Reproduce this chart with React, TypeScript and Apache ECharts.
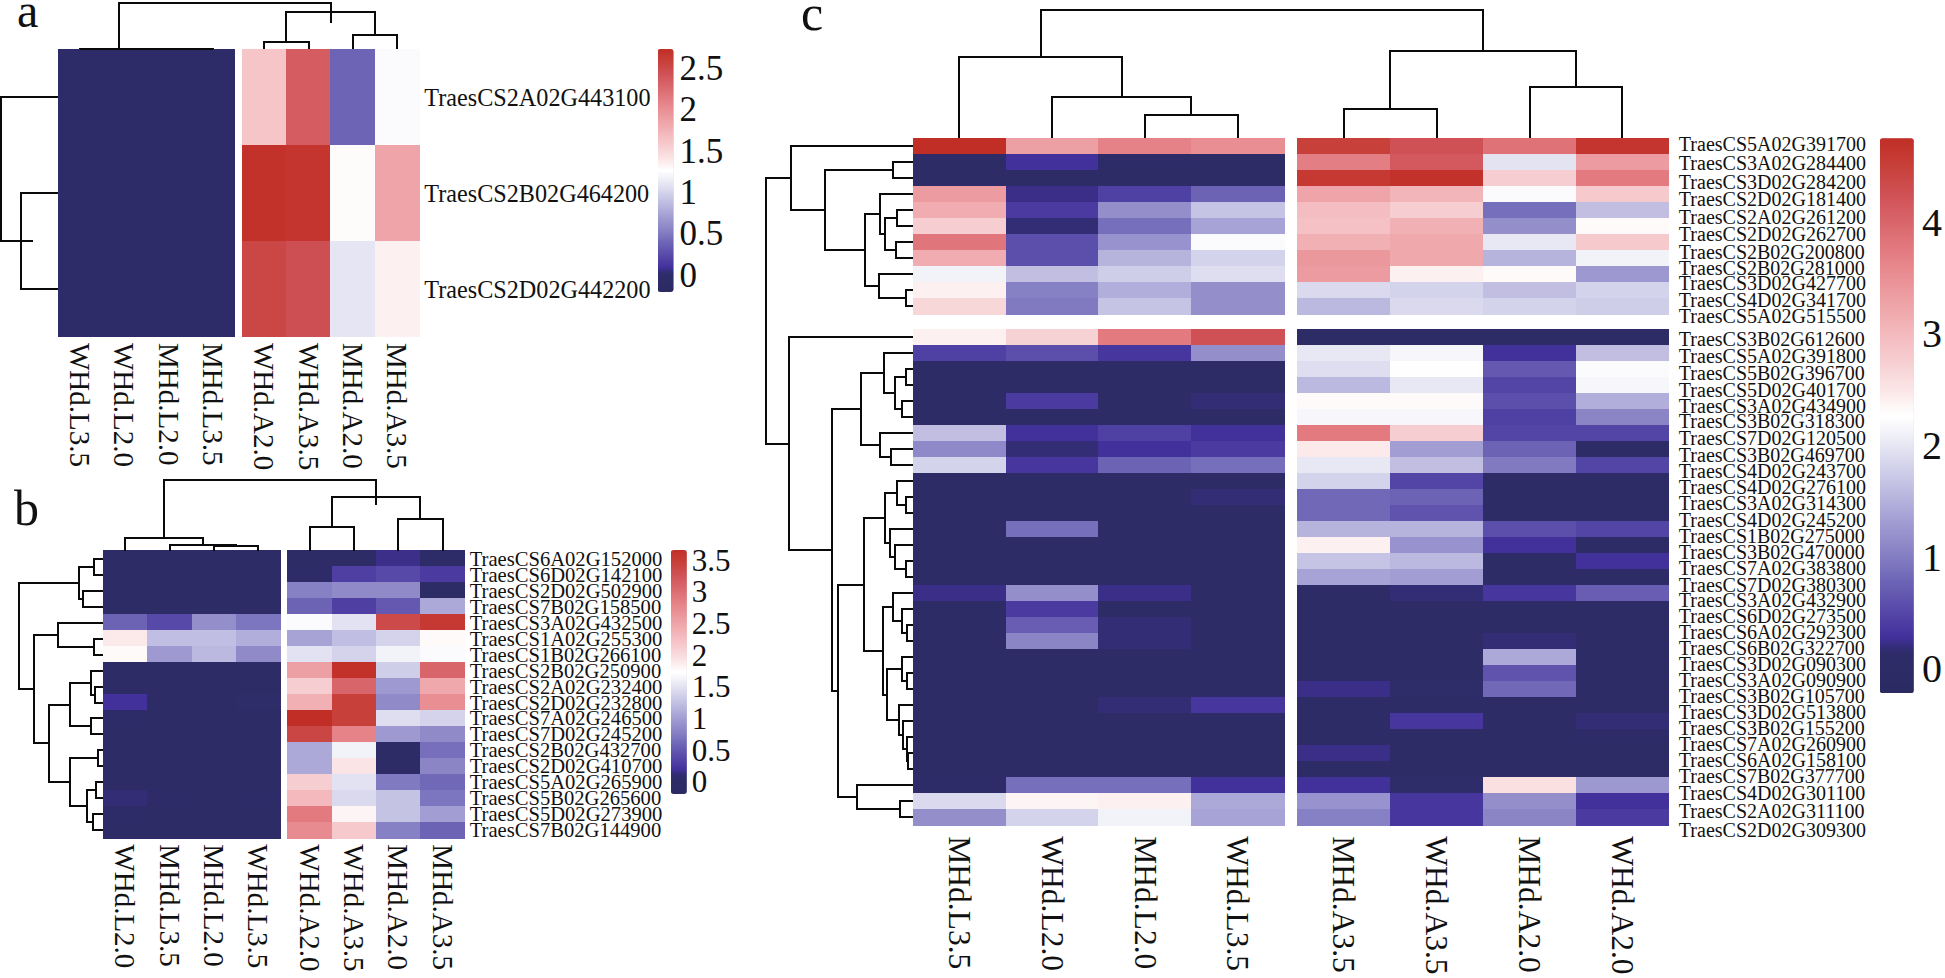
import React, { useEffect, useRef } from "react";
import * as echarts from "echarts";

const FONT = "Liberation Serif";

// Colour ramp of the three legends (dark navy through white to red): [position, colour]
const rampStops: [number, number[]][] = [
  [0, [0x2b, 0x2b, 0x62]], [0.075, [0x2e, 0x2c, 0x69]], [0.1, [0x42, 0x30, 0x9b]], [0.15, [0x57, 0x49, 0xa8]],
  [0.2, [0x6c, 0x63, 0xb5]], [0.25, [0x86, 0x80, 0xc4]], [0.3, [0x9d, 0x98, 0xd0]], [0.35, [0xb6, 0xb3, 0xdd]],
  [0.4, [0xcf, 0xce, 0xe9]], [0.45, [0xe8, 0xe8, 0xf4]], [0.5, [0xff, 0xff, 0xff]], [0.55, [0xfb, 0xe4, 0xe5]],
  [0.6, [0xf6, 0xcd, 0xd0]], [0.65, [0xf3, 0xb9, 0xbd]], [0.7, [0xee, 0xa4, 0xa8]], [0.75, [0xe9, 0x8f, 0x94]],
  [0.8, [0xe2, 0x7a, 0x80]], [0.85, [0xd8, 0x65, 0x6a]], [0.9, [0xcf, 0x50, 0x55]], [0.95, [0xc7, 0x40, 0x39]],
  [1, [0xc1, 0x2e, 0x26]],
];
const ramp: string[] = [];
for (let k = 0; k <= 40; k++) {
  const t = k / 40;
  let j = 0;
  while (j < rampStops.length - 2 && rampStops[j + 1][0] < t) j++;
  const [t0, c0] = rampStops[j];
  const [t1, c1] = rampStops[j + 1];
  const u = (t - t0) / (t1 - t0);
  ramp.push(`rgb(${c0.map((v, n) => Math.round(v + (c1[n] - v) * u)).join(",")})`);
}

// ---------- panel a ----------
const aCols = ["WHd.L3.5", "WHd.L2.0", "MHd.L2.0", "MHd.L3.5", "WHd.A2.0", "WHd.A3.5", "MHd.A2.0", "MHd.A3.5"];
const aRows = ["TraesCS2A02G443100", "TraesCS2B02G464200", "TraesCS2D02G442200"];
const aValues = [
  [0, 0, 0, 0, 1.62, 2.35, 0.39, 1.24],
  [0, 0, 0, 0, 2.7, 2.67, 1.29, 1.85],
  [0, 0, 0, 0, 2.52, 2.45, 1.1, 1.35],
];
const aTicks = [0, 0.5, 1, 1.5, 2, 2.5];
const aColMerge = [[-3, -4, 0.5], [-2, 1, 0.5], [-1, 2, 0.5], [-5, -6, 7], [-7, -8, 14], [4, 5, 37], [3, 6, 46]];
const aRowMerge = [[-2, -3, 37], [-1, 1, 57]];
const aColStubs = [[6, 37, 26]];
const aRowStubs = [[1, 37, 25]];

// ---------- panel b ----------
const bCols = ["WHd.L2.0", "MHd.L3.5", "MHd.L2.0", "WHd.L3.5", "WHd.A2.0", "WHd.A3.5", "MHd.A2.0", "MHd.A3.5"];
const bRows = [
  "TraesCS6A02G152000", "TraesCS6D02G142100", "TraesCS2D02G502900", "TraesCS7B02G158500", "TraesCS3A02G432500",
  "TraesCS1A02G255300", "TraesCS1B02G266100", "TraesCS2B02G250900", "TraesCS2A02G232400", "TraesCS2D02G232800",
  "TraesCS7A02G246500", "TraesCS7D02G245200", "TraesCS2B02G432700", "TraesCS2D02G410700", "TraesCS5A02G265900",
  "TraesCS5B02G265600", "TraesCS5D02G273900", "TraesCS7B02G144900",
];
const bValues = [
  [0, 0, 0, 0, 0, 0, 0.16, 0.04],
  [0, 0, 0, 0, 0.04, 0.31, 0.39, 0.27],
  [0, 0, 0, 0, 0.77, 0.85, 0.85, 0],
  [0, 0, 0, 0, 0.58, 0.31, 0.5, 1.08],
  [0.58, 0.39, 0.89, 0.7, 1.7, 1.5, 3.35, 3.54],
  [1.89, 1.23, 1.23, 1.12, 1.04, 1.23, 1.39, 1.77],
  [1.77, 0.97, 1.2, 0.85, 1.5, 1.39, 1.62, 1.7],
  [0, 0, 0, 0, 2.54, 3.62, 1.35, 3.08],
  [0, 0, 0, 0, 2.12, 3.08, 0.97, 2.47],
  [0.2, 0, 0, 0.08, 2.39, 3.47, 0.85, 2.7],
  [0.04, 0, 0, 0, 3.66, 3.47, 1.47, 1.39],
  [0, 0, 0, 0, 3.39, 2.81, 0.97, 0.85],
  [0, 0, 0, 0, 1.08, 1.62, 0, 0.66],
  [0, 0, 0, 0, 1.08, 1.93, 0, 0.81],
  [0, 0, 0, 0, 2.12, 1.5, 0.73, 0.62],
  [0.12, 0.04, 0, 0.04, 2.31, 1.43, 1.27, 0.7],
  [0.04, 0, 0, 0, 2.89, 1.81, 1.27, 1.0],
  [0.02, 0, 0, 0, 2.74, 2.16, 0.77, 0.58],
];
const bTicks = [0, 0.5, 1, 1.5, 2, 2.5, 3, 3.5];
const bColMerge = [[-3, -4, 4.3], [-2, 1, 5.3], [-1, 2, 12.5], [-5, -6, 24], [-7, -8, 32], [4, 5, 54], [3, 6, 71]];
const bColStubs = [[6, 54, 46]];
const bRowMerge = [
  [-1, -2, 9], [-3, -4, 20], [1, 2, 24], [-6, -7, 9], [-5, 4, 45], [-9, -10, 8], [-8, 6, 12], [-11, -12, 12],
  [7, 8, 33], [-13, -14, 5], [-15, -16, 7], [-17, -18, 10], [11, 12, 16], [10, 13, 33], [9, 14, 54], [5, 15, 69], [3, 16, 84],
];

// ---------- panel c ----------
const cCols = ["MHd.L3.5", "WHd.L2.0", "MHd.L2.0", "WHd.L3.5", "MHd.A3.5", "WHd.A3.5", "MHd.A2.0", "WHd.A2.0"];
const cRows = [
  "TraesCS5A02G391700", "TraesCS3A02G284400", "TraesCS3D02G284200", "TraesCS2D02G181400", "TraesCS2A02G261200",
  "TraesCS2D02G262700", "TraesCS2B02G200800", "TraesCS2B02G281000", "TraesCS3D02G427700", "TraesCS4D02G341700",
  "TraesCS5A02G515500",
  "TraesCS3B02G612600", "TraesCS5A02G391800", "TraesCS5B02G396700", "TraesCS5D02G401700", "TraesCS3A02G434900",
  "TraesCS3B02G318300", "TraesCS7D02G120500", "TraesCS3B02G469700", "TraesCS4D02G243700", "TraesCS4D02G276100",
  "TraesCS3A02G314300", "TraesCS4D02G245200", "TraesCS1B02G275000", "TraesCS3B02G470000", "TraesCS7A02G383800",
  "TraesCS7D02G380300", "TraesCS3A02G432900", "TraesCS6D02G273500", "TraesCS6A02G292300", "TraesCS6B02G322700",
  "TraesCS3D02G090300", "TraesCS3A02G090900", "TraesCS3B02G105700", "TraesCS3D02G513800", "TraesCS3B02G155200",
  "TraesCS7A02G260900", "TraesCS6A02G158100", "TraesCS7B02G377700", "TraesCS4D02G301100", "TraesCS2A02G311100",
  "TraesCS2D02G309300",
];
const cValues = [
  [4.75, 3.31, 3.66, 3.51, 4.5, 4.25, 3.86, 4.65],
  [0, 0.28, 0.08, 0, 3.71, 4.15, 1.97, 3.36],
  [0, 0, 0, 0, 4.6, 4.7, 2.76, 3.76],
  [3.36, 0.23, 0.43, 0.77, 3.26, 3.06, 2.22, 2.81],
  [3.16, 0.38, 1.17, 1.67, 2.96, 2.76, 0.87, 1.62],
  [2.76, 0.18, 0.87, 1.37, 2.91, 3.11, 1.17, 2.31],
  [3.81, 0.58, 1.22, 2.22, 3.11, 3.21, 2.02, 2.81],
  [3.16, 0.58, 1.52, 1.82, 3.41, 3.21, 1.52, 2.12],
  [2.12, 1.62, 1.77, 1.92, 3.36, 2.41, 2.31, 1.27],
  [2.41, 1.02, 1.47, 1.17, 1.87, 1.82, 1.62, 1.82],
  [2.66, 0.97, 1.67, 1.17, 1.57, 1.87, 1.82, 1.77],
  [2.41, 2.71, 3.76, 4.25, 0, 0, 0, 0],
  [0.43, 0.58, 0.33, 1.17, 2.02, 2.17, 0.28, 1.62],
  [0, 0, 0, 0, 1.92, 2.27, 0.67, 2.22],
  [0, 0, 0, 0, 1.57, 2.02, 0.48, 2.17],
  [0, 0.38, 0, 0.18, 2.31, 2.31, 0.58, 1.47],
  [0.03, 0, 0, 0.03, 2.17, 2.17, 0.43, 1.07],
  [1.62, 0.28, 0.43, 0.28, 3.76, 2.76, 0.48, 0.48],
  [1.12, 0.18, 0.28, 0.38, 2.46, 1.32, 0.77, 0],
  [1.82, 0.33, 0.77, 0.87, 2.02, 1.62, 0.97, 0.48],
  [0, 0, 0, 0, 1.82, 0.48, 0, 0],
  [0.03, 0.03, 0.03, 0.18, 0.82, 0.77, 0, 0.03],
  [0.03, 0, 0, 0, 0.82, 0.62, 0, 0],
  [0.03, 0.87, 0.03, 0, 1.52, 1.52, 0.58, 0.48],
  [0, 0, 0, 0, 2.41, 1.22, 0.28, 0],
  [0, 0, 0, 0, 1.67, 1.57, 0, 0.28],
  [0, 0, 0, 0, 1.37, 1.32, 0, 0.03],
  [0.23, 1.17, 0.23, 0.03, 0, 0.18, 0.33, 0.72],
  [0, 0.38, 0.03, 0, 0, 0, 0.03, 0],
  [0, 0.72, 0.18, 0, 0, 0, 0, 0],
  [0, 1.07, 0.18, 0, 0, 0, 0.18, 0],
  [0, 0, 0, 0, 0.03, 0.03, 1.42, 0],
  [0, 0, 0, 0, 0.03, 0.03, 0.62, 0],
  [0, 0, 0, 0, 0.23, 0.13, 0.82, 0],
  [0, 0.03, 0.18, 0.33, 0, 0, 0, 0],
  [0, 0, 0, 0, 0.03, 0.33, 0, 0.18],
  [0, 0, 0, 0, 0, 0, 0, 0.08],
  [0, 0, 0, 0, 0.23, 0, 0, 0],
  [0, 0, 0, 0, 0, 0, 0.03, 0],
  [0.08, 0.87, 0.87, 0.28, 0.28, 0.13, 2.56, 1.27],
  [1.87, 2.36, 2.41, 1.42, 1.22, 0.33, 1.17, 0.28],
  [1.17, 1.82, 2.12, 1.37, 1.02, 0.33, 1.07, 0.38],
];
const cTicks = [0, 1, 2, 3, 4];
const cColMerge = [[-3, -4, 23.3], [-2, 1, 41.6], [-1, 2, 81.6], [-5, -6, 29.3], [-7, -8, 51.6], [4, 5, 87.6], [3, 6, 128.3]];
const cRowMerge = [
  [-5, -6, 16.1], [-7, -8, 17.2], [1, 2, 27.6], [-4, 3, 33.3], [-10, -11, 7.3], [-9, 5, 34.4], [4, 6, 47.8], [-2, -3, 20.3],
  [8, 7, 88], [-1, 9, 121.7], [-14, -15, 6.9], [-16, -17, 11.5], [11, 12, 18.4], [-13, 13, 29.5], [-19, -20, 22.2],
  [-18, 15, 32.9], [14, 16, 52.4], [-22, -23, 6.9], [-21, 18, 16.1], [-26, -27, 7.3], [-25, 20, 18.4], [-24, 21, 23],
  [19, 22, 27.6], [-30, -31, 5.7], [-29, 24, 11.5], [-28, 25, 19.9], [-33, -34, 5.7], [-32, 27, 11.5], [-38, -39, 5],
  [-37, 29, 6.5], [-36, 30, 10.3], [-35, 31, 14.5], [28, 32, 26.4], [26, 33, 29.9], [23, 34, 49], [-41, -42, 13],
  [-40, 36, 55.9], [35, 37, 74.6], [17, 38, 81.1], [-12, 39, 124.4], [10, 40, 147.3],
];
const cRowLabelY = [
  144, 163, 181.7, 199, 217, 234, 252, 268, 283, 300, 316,
  339, 356, 372.7, 390, 405.7, 421, 438, 455, 470.7, 487, 503, 520, 536, 552, 568, 585, 600, 616, 632, 648,
  664, 680, 696, 712, 728, 744, 760, 776, 793, 811, 830,
];

// ---------- layouts ----------
const layoutA = {
  x: 58, y: 49, cellW: 44.3, cellH: 96, colGap: 6.9, rowBreak: 0, rowGap: 0,
  colDendro: 47, rowDendro: 58, bar: { left: 657.5, top: 49, w: 16, h: 243, min: -0.2, max: 2.73 },
  barFont: 35, barMargin: 6, colFont: 29, colMargin: 6, colShift: [0, 0, 8, 0], rowFont: 24.2, rowMargin: 5,
};
const layoutB = {
  x: 103.3, y: 550.7, cellW: 44.3, cellH: 15.98, colGap: 7, rowBreak: 0, rowGap: 0,
  colDendro: 72, rowDendro: 100, bar: { left: 670.8, top: 550, w: 16, h: 244, min: -0.19, max: 3.66 },
  barFont: 31, barMargin: 5, colFont: 29, colMargin: 6, colShift: [0, 0, 8, 0], rowFont: 20.6, rowMargin: 5,
};
const layoutC = {
  x: 913, y: 138.3, cellW: 92.83, cellH: 16, colGap: 13.2, rowBreak: 11, rowGap: 15,
  colDendro: 129, rowDendro: 150, bar: { left: 1879.8, top: 138.3, w: 34, h: 555, min: -0.22, max: 4.75 },
  barFont: 40, barMargin: 13, colFont: 31.5, colMargin: 11, colShift: [5, 0, 0, 0], rowFont: 20, rowMargin: 0,
};

function mergeSegments(merge: number[][], leafPos: (i: number) => number, stubs: number[][] = []) {
  const nodes: { pos: number; h: number }[] = [];
  const read = (ref: number) => (ref < 0 ? { pos: leafPos(-ref - 1), h: 0 } : nodes[ref - 1]);
  const segs: number[][] = [];
  merge.forEach(([a, b, h]) => {
    const l = read(a);
    const r = read(b);
    segs.push([l.pos, l.h, l.pos, h, r.pos, h, r.pos, r.h]);
    nodes.push({ pos: (l.pos + r.pos) / 2, h });
  });
  stubs.forEach(([node, h0, h1]) => {
    const p = nodes[node - 1].pos;
    segs.push([p, h0, p, h1, p, h1, p, h1]);
  });
  return segs;
}

function buildOption() {
  const grid: any[] = [];
  const xAxis: any[] = [];
  const yAxis: any[] = [];
  const series: any[] = [];
  const visualMap: any[] = [];
  const graphic: any[] = [];
  const hiddenCommon = { axisLine: { show: false }, axisTick: { show: false }, splitLine: { show: false } };

  const addGrid = (left: number, top: number, width: number, height: number, x: any, y: any) => {
    grid.push({ left, top, width, height, show: false });
    const i = grid.length - 1;
    xAxis.push({ gridIndex: i, ...hiddenCommon, ...x });
    yAxis.push({ gridIndex: i, ...hiddenCommon, ...y });
    return i;
  };

  const dendroSeries = (g: number, data: number[][]) => ({
    type: "custom", xAxisIndex: g, yAxisIndex: g, data, silent: true, clip: false,
    encode: { x: 0, y: 1 },
    renderItem: (_: any, api: any) => ({
      type: "polyline",
      shape: { points: [0, 2, 4, 6].map((i) => api.coord([api.value(i), api.value(i + 1)])) },
      style: { stroke: "#0a0a0a", lineWidth: 2, fill: "none" },
    }),
  });

  const panel = (L: any, cols: string[], rows: string[], values: number[][], ticks: number[],
    colMerge: number[][], rowMerge: number[][], colStubs: number[][], rowStubs: number[][], rowAxisLabels: boolean) => {
    const seriesIdx: number[] = [];
    const nRows = rows.length;
    const blocks = L.rowBreak ? [[0, L.rowBreak], [L.rowBreak, nRows]] : [[0, nRows]];
    const colBlocks = [[0, 4], [4, 8]];
    blocks.forEach(([r0, r1], bi) => {
      colBlocks.forEach(([c0, c1], ci) => {
        const left = L.x + c0 * L.cellW + (ci ? L.colGap : 0);
        const top = L.y + r0 * L.cellH + (bi ? L.rowGap : 0);
        const lastBlock = bi === blocks.length - 1;
        const g = addGrid(left, top, (c1 - c0) * L.cellW, (r1 - r0) * L.cellH, {
          type: "category",
          data: cols.slice(c0, c1),
          axisLabel: {
            show: lastBlock, interval: 0, rotate: -90, margin: L.colMargin, padding: L.colShift,
            fontFamily: FONT, fontSize: L.colFont, color: "#111", hideOverlap: false,
          },
        }, {
          type: "category",
          inverse: true,
          position: "right",
          data: rows.slice(r0, r1),
          axisLabel: {
            show: rowAxisLabels && ci === 1, interval: 0, margin: L.rowMargin,
            fontFamily: FONT, fontSize: L.rowFont, color: "#111", hideOverlap: false,
          },
        });
        const data: number[][] = [];
        for (let r = r0; r < r1; r++) for (let c = c0; c < c1; c++) data.push([c - c0, r - r0, values[r][c]]);
        seriesIdx.push(series.length);
        series.push({
          type: "heatmap", xAxisIndex: g, yAxisIndex: g, data, silent: true,
          itemStyle: { borderWidth: 0 }, emphasis: { disabled: true }, progressive: 0,
        });
      });
    });

    // legend bar with its value axis
    const b = L.bar;
    visualMap.push({
      type: "continuous", min: b.min, max: b.max, dimension: 2, seriesIndex: seriesIdx,
      inRange: { color: ramp }, left: b.left, top: b.top, itemWidth: b.w, itemHeight: b.h,
      padding: 0, calculable: false, hoverLink: false, orient: "vertical", text: null, showLabel: false,
    });
    addGrid(b.left, b.top, b.w, b.h, { type: "value", show: false, min: 0, max: 1 }, {
      type: "value", position: "right", min: b.min, max: b.max,
      axisLabel: {
        show: true, customValues: ticks, margin: L.barMargin, fontFamily: FONT, fontSize: L.barFont, color: "#111",
        showMinLabel: true, showMaxLabel: true, hideOverlap: false,
        formatter: (v: number) => String(v),
      },
    });

    // column dendrogram
    const gapCols = L.colGap / L.cellW;
    const colPos = (i: number) => i + 0.5 + (i >= 4 ? gapCols : 0);
    const totalW = 8 * L.cellW + L.colGap;
    const gc = addGrid(L.x, L.y - L.colDendro, totalW, L.colDendro,
      { type: "value", show: false, min: 0, max: 8 + gapCols },
      { type: "value", show: false, min: 0, max: L.colDendro });
    series.push(dendroSeries(gc, mergeSegments(colMerge, colPos, colStubs)));

    // row dendrogram
    const gapRows = L.rowGap / L.cellH;
    const rowPos = (i: number) => i + 0.5 + (L.rowBreak && i >= L.rowBreak ? gapRows : 0);
    const totalH = nRows * L.cellH + L.rowGap;
    const gr = addGrid(L.x - L.rowDendro, L.y, L.rowDendro, totalH,
      { type: "value", show: false, inverse: true, min: 0, max: L.rowDendro },
      { type: "value", show: false, inverse: true, min: 0, max: nRows + gapRows });
    const segs = mergeSegments(rowMerge, rowPos, rowStubs).map((s) => [s[1], s[0], s[3], s[2], s[5], s[4], s[7], s[6]]);
    series.push(dendroSeries(gr, segs));
  };

  panel(layoutA, aCols, aRows, aValues, aTicks, aColMerge, aRowMerge, aColStubs, aRowStubs, true);
  panel(layoutB, bCols, bRows, bValues, bTicks, bColMerge, bRowMerge, bColStubs, [], true);
  panel(layoutC, cCols, cRows, cValues, cTicks, cColMerge, cRowMerge, [], [], false);

  // row names of panel c sit slightly apart from their rows
  const cRight = layoutC.x + 8 * layoutC.cellW + layoutC.colGap;
  cRows.forEach((name, i) => {
    graphic.push({
      type: "text", x: cRight + 10, y: cRowLabelY[i], silent: true,
      style: { text: name, font: `${layoutC.rowFont}px "${FONT}"`, fill: "#111", textAlign: "left", verticalAlign: "middle" },
    });
  });

  [["a", 17, 34, 48], ["b", 14, 533, 50], ["c", 801, 38, 50]].forEach(([t, x, y, size]) => {
    graphic.push({
      type: "text", x, y, silent: true,
      style: { text: t, font: `${size}px "${FONT}"`, fill: "#111", textAlign: "left", verticalAlign: "bottom" },
    });
  });

  return { animation: false, backgroundColor: "#fff", grid, xAxis, yAxis, series, visualMap, graphic, tooltip: { show: false } };
}

export default function App() {
  const ref = useRef<HTMLDivElement>(null);
  useEffect(() => {
    document.body.style.margin = "0";
    const chart = echarts.init(ref.current!, undefined, { renderer: "svg" });
    chart.setOption(buildOption() as any);
    return () => chart.dispose();
  }, []);
  return (
    <>
      <style>{"svg rect, svg path { shape-rendering: crispEdges; }"}</style>
      <div ref={ref} style={{ position: "relative", width: 1945, height: 978 }} />
    </>
  );
}
